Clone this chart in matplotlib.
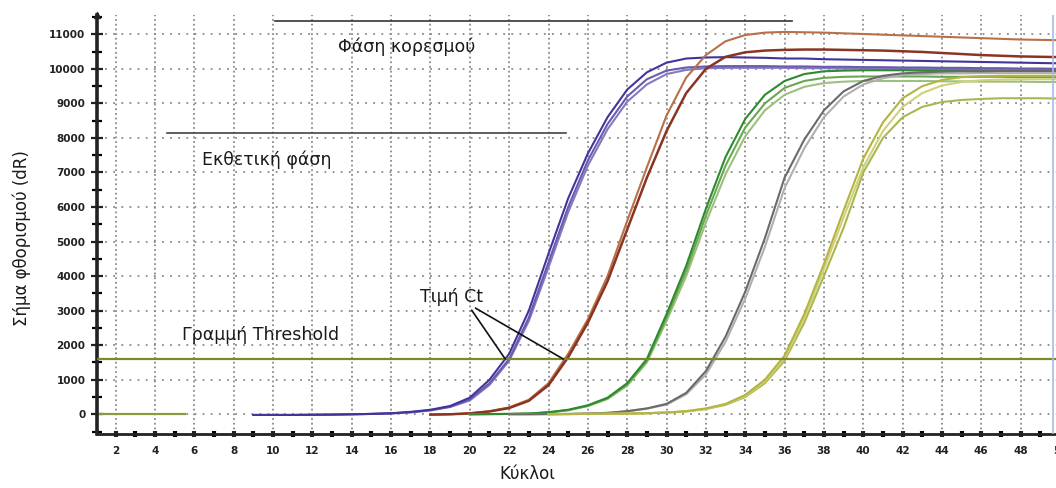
import matplotlib
matplotlib.use("Agg")
import matplotlib.pyplot as plt
import numpy as np

plt.rcParams['font.family'] = ['DejaVu Sans']

# ---------------- data ----------------
purple_x = list(range(9, 51))
purple_a = [-20, -20, -20, -15, -10, 0, 10, 30, 70, 130, 240, 480, 1000, 1750, 3000, 4650,
            6250, 7550, 8600, 9400, 9900, 10180, 10300, 10330, 10340, 10330, 10320, 10300,
            10300, 10280, 10270, 10260, 10250, 10240, 10230, 10220, 10210, 10200, 10190,
            10180, 10170, 10160]
purple_b = [-20, -20, -20, -15, -10, 0, 10, 25, 60, 120, 220, 430, 900, 1600, 2800, 4400,
            6000, 7350, 8400, 9200, 9700, 9950, 10040, 10070, 10080, 10080, 10080, 10070,
            10070, 10060, 10060, 10050, 10050, 10040, 10040, 10030, 10030, 10020, 10020,
            10010, 10010, 10000]
purple_c = [-20, -20, -20, -15, -10, 0, 10, 25, 55, 110, 210, 400, 850, 1550, 2700, 4250,
            5850, 7200, 8250, 9050, 9550, 9850, 9970, 10020, 10030, 10030, 10030, 10030,
            10020, 10020, 10010, 10010, 10000, 10000, 10000, 9990, 9990, 9990, 9980, 9980,
            9980, 9980]

brown_x = list(range(18, 51))
brown_light = [-10, 0, 30, 90, 200, 420, 900, 1750, 2750, 4000, 5600, 7150, 8650, 9750,
               10400, 10800, 10980, 11050, 11070, 11060, 11050, 11030, 11010, 10990, 10970,
               10950, 10930, 10910, 10890, 10870, 10850, 10840, 10830]
brown_dark = [-10, 0, 25, 80, 180, 390, 840, 1650, 2650, 3850, 5350, 6850, 8200, 9300,
              10000, 10350, 10480, 10530, 10550, 10560, 10560, 10550, 10540, 10530, 10510,
              10490, 10460, 10430, 10400, 10380, 10360, 10350, 10340]

green_x = list(range(20, 51))
green_a = [0, 5, 10, 20, 60, 130, 260, 480, 900, 1600, 2900, 4300, 5950, 7450, 8550, 9250,
           9650, 9850, 9930, 9950, 9960, 9960, 9960, 9950, 9950, 9950, 9940, 9940, 9930,
           9930, 9920]
green_b = [0, 5, 10, 20, 55, 120, 245, 460, 860, 1550, 2800, 4150, 5750, 7200, 8300, 9000,
           9450, 9650, 9740, 9770, 9780, 9780, 9780, 9780, 9770, 9770, 9770, 9770, 9760,
           9760, 9760]
green_c = [0, 5, 10, 20, 50, 115, 235, 440, 830, 1500, 2700, 4000, 5550, 6950, 8050, 8800,
           9250, 9480, 9590, 9630, 9650, 9650, 9650, 9650, 9640, 9640, 9630, 9630, 9630,
           9620, 9620]

gray_x = list(range(22, 51))
gray_a = [0, 0, 5, 10, 20, 40, 90, 170, 300, 620, 1250, 2250, 3550, 5100, 6850, 7950, 8800,
          9350, 9650, 9800, 9870, 9900, 9920, 9930, 9930, 9940, 9940, 9950, 9950]
gray_b = [0, 0, 5, 10, 20, 40, 85, 160, 280, 580, 1150, 2100, 3350, 4850, 6550, 7700, 8600,
          9200, 9550, 9730, 9820, 9850, 9870, 9870, 9880, 9880, 9880, 9880, 9880]

yellow_x = list(range(24, 51))
yellow_a = [0, 5, 10, 15, 20, 30, 50, 90, 170, 300, 560, 1000, 1700, 2900, 4350, 5900, 7400,
            8450, 9150, 9500, 9680, 9760, 9790, 9800, 9800, 9800, 9800]
yellow_b = [0, 5, 10, 15, 20, 30, 50, 85, 160, 285, 530, 950, 1620, 2780, 4200, 5700, 7150,
            8200, 8900, 9300, 9520, 9620, 9670, 9690, 9700, 9700, 9700]
yellow_c = [0, 5, 10, 15, 20, 30, 50, 80, 150, 270, 500, 900, 1550, 2650, 4000, 5400, 7000,
            8000, 8600, 8900, 9040, 9100, 9130, 9150, 9150, 9150, 9140]

early_x = [1, 5.5]
early_y = [0, 0]

threshold = 1600
x_ticks = list(range(2, 51, 2))
y_ticks = list(range(0, 11001, 1000))

saturation_line_x = [10.1, 36.4]
saturation_line_y = 11380
exp_line_x = [4.6, 24.9]
exp_line_y = 8140
ct_points_x = [21.8, 24.75]

# ---------------- figure ----------------
fig = plt.figure(figsize=(10.56, 4.88), dpi=100)
ax = fig.add_axes([97.3 / 1056, 1 - 434.3 / 488, (1060 - 97.3) / 1056, (434.3 - 15) / 488])
ax.set_xlim(1.065, 50)
ax.set_ylim(-580, 11560)

# grid
for xv in x_ticks:
    if xv < 49.7:
        ax.axvline(xv, color='#8a8a8a', lw=1.3, ls=(0, (1, 1.6)), zorder=0)
for yv in y_ticks:
    ax.axhline(yv, color='#8a8a8a', lw=1.3, ls=(0, (1, 3.5)), zorder=0)

# curves
lw = 1.5
ax.plot(early_x, early_y, color='#8a9a40', lw=1.6, zorder=2)
ax.plot(purple_x, purple_c, color='#8878c0', lw=lw, zorder=3)
ax.plot(purple_x, purple_b, color='#6a5ab0', lw=lw, zorder=3)
ax.plot(purple_x, purple_a, color='#40359a', lw=lw, zorder=3)
ax.plot(brown_x, brown_light, color='#b87048', lw=lw, zorder=3)
ax.plot(brown_x, brown_dark, color='#8a3424', lw=lw + 0.3, zorder=3)
ax.plot(green_x, green_c, color='#9cc080', lw=lw, zorder=3)
ax.plot(green_x, green_b, color='#6aa850', lw=lw, zorder=3)
ax.plot(green_x, green_a, color='#2f8a2f', lw=lw, zorder=3)
ax.plot(gray_x, gray_b, color='#b0b0b0', lw=lw, zorder=3)
ax.plot(gray_x, gray_a, color='#6a6a6a', lw=lw, zorder=3)
ax.plot(yellow_x, yellow_c, color='#a8b850', lw=lw, zorder=3)
ax.plot(yellow_x, yellow_b, color='#d0d078', lw=lw, zorder=3)
ax.plot(yellow_x, yellow_a, color='#b4b440', lw=lw, zorder=3)

# threshold
ax.axhline(threshold, color='#7a8a2a', lw=1.6, zorder=4)

# right border
ax.axvline(49.65, color='#a8b8e8', lw=1.2, zorder=5)

# annotation lines
ax.plot(saturation_line_x, [saturation_line_y] * 2, color='#333333', lw=1.2, zorder=5)
ax.plot(exp_line_x, [exp_line_y] * 2, color='#444444', lw=1.2, zorder=5)
tfs = 12.5
ax.text(13.3, 10630, 'Φάση κορεσμού', fontsize=tfs, va='center', ha='left', color='#1a1a1a')
ax.text(6.4, 7360, 'Εκθετική φάση', fontsize=tfs, va='center', ha='left', color='#1a1a1a')
ax.text(5.35, 2290, 'Γραμμή Threshold', fontsize=tfs, va='center', ha='left', color='#1a1a1a')
ax.text(17.45, 3390, 'Τιμή Ct', fontsize=tfs, va='center', ha='left', color='#1a1a1a')
ax.plot([20.1, ct_points_x[0]], [3010, threshold], color='#111111', lw=1.2, zorder=6)
ax.plot([20.3, ct_points_x[1]], [3070, threshold], color='#111111', lw=1.2, zorder=6)

# spines
for s in ['top', 'right']:
    ax.spines[s].set_visible(False)
ax.spines['left'].set_linewidth(2.6)
ax.spines['bottom'].set_linewidth(2.0)
ax.spines['left'].set_color('#222222')
ax.spines['bottom'].set_color('#222222')
ax.plot([1.065], [11560], marker='^', color='#222222', markersize=5, clip_on=False, zorder=7)

ax.set_xticks(x_ticks)
ax.set_xticks(list(range(2, 51)), minor=True)
ax.set_yticks(y_ticks)
ax.set_yticks(list(range(-500, 11501, 500)), minor=True)
ax.tick_params(axis='y', which='major', direction='inout', length=9, width=1.6, pad=4,
               labelsize=7.5, colors='#222222')
ax.tick_params(axis='y', which='minor', direction='inout', length=7, width=1.6)
ax.tick_params(axis='x', which='major', direction='inout', length=5, width=3, pad=6,
               labelsize=7.5, colors='#222222')
ax.tick_params(axis='x', which='minor', direction='inout', length=5, width=3)
for lab in ax.get_xticklabels() + ax.get_yticklabels():
    lab.set_fontweight('bold')

fig.text(22 / 1056, 1 - 238 / 488, 'Σήμα φθορισμού (dR)', rotation=90, fontsize=12,
         ha='center', va='center', color='#1a1a1a')
fig.text(527 / 1056, 1 - 474 / 488, 'Κύκλοι', fontsize=12, ha='center', va='center',
         color='#1a1a1a')

fig.savefig('out.png', dpi=100)
